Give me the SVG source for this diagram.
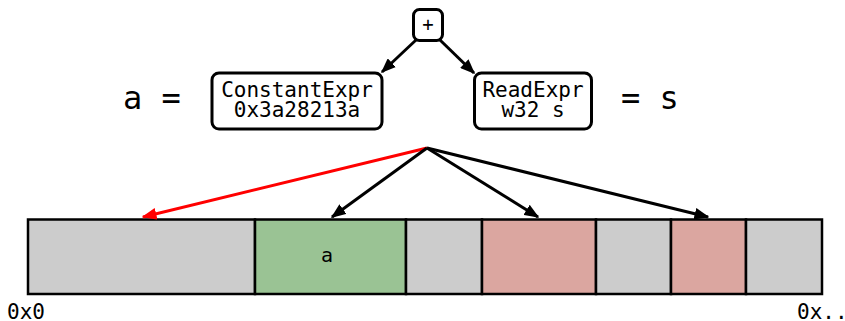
<svg xmlns="http://www.w3.org/2000/svg" width="845" height="321" viewBox="0 0 845 321">
<style>
.mono{font-family:"DejaVu Sans Mono","Liberation Mono",monospace;fill:#000}
.box{fill:#fff;stroke:#000;stroke-width:3}
.cell{stroke:#000;stroke-width:2.5}
.g{fill:#cccccc}.gr{fill:#9ac394}.p{fill:#dba6a0}
.c{stroke:#000;stroke-width:3;fill:none}
.r{stroke:#ff0000;stroke-width:3;fill:none}
</style>
<defs>
<marker id="ah" markerWidth="5" markerHeight="4" refX="4.5" refY="2" orient="auto" markerUnits="strokeWidth"><path d="M0,0 L5,2 L0,4 z" fill="#000"/></marker>
<marker id="ahr" markerWidth="5" markerHeight="4" refX="4.5" refY="2" orient="auto" markerUnits="strokeWidth"><path d="M0,0 L5,2 L0,4 z" fill="#ff0000"/></marker>
</defs>
<g id="eq-left"><text class="mono" x="123" y="109" font-size="32">a =</text></g>
<g id="eq-right"><text class="mono" x="621" y="109" font-size="32">= s</text></g>
<g id="plus"><rect class="box" x="413.5" y="9.5" width="29" height="31" rx="6"/><text class="mono" x="428" y="31" font-size="19" text-anchor="middle">+</text></g>
<g id="const"><rect class="box" x="212" y="73" width="170" height="56" rx="7"/><text class="mono" x="297" y="96.5" font-size="21" text-anchor="middle">ConstantExpr</text><text class="mono" x="297" y="116.5" font-size="21" text-anchor="middle">0x3a28213a</text></g>
<g id="read"><rect class="box" x="474.5" y="73" width="117" height="56" rx="7"/><text class="mono" x="533" y="96.5" font-size="21" text-anchor="middle">ReadExpr</text><text class="mono" x="533" y="116.5" font-size="21" text-anchor="middle">w32 s</text></g>
<g id="memory">
<rect class="cell g" x="28" y="219.5" width="227" height="74.5"/>
<rect class="cell gr" x="255" y="219.5" width="151" height="74.5"/>
<rect class="cell g" x="406" y="219.5" width="76" height="74.5"/>
<rect class="cell p" x="482" y="219.5" width="114" height="74.5"/>
<rect class="cell g" x="596" y="219.5" width="75" height="74.5"/>
<rect class="cell p" x="671" y="219.5" width="75" height="74.5"/>
<rect class="cell g" x="746" y="219.5" width="76" height="74.5"/>
<text class="mono" x="327" y="262" font-size="20" text-anchor="middle">a</text>
</g>
<g id="addr-start"><text class="mono" x="7" y="319" font-size="21">0x0</text></g>
<g id="addr-end"><text class="mono" x="797" y="319" font-size="21">0x..</text></g>
<g id="connectors">
<line class="c" x1="416" y1="40" x2="382" y2="72" marker-end="url(#ah)"/>
<line class="c" x1="440" y1="40" x2="474" y2="73" marker-end="url(#ah)"/>
<line class="r" x1="427" y1="148" x2="143" y2="217" marker-end="url(#ahr)"/>
<line class="c" x1="427" y1="148" x2="332" y2="217" marker-end="url(#ah)"/>
<line class="c" x1="427" y1="148" x2="538" y2="217" marker-end="url(#ah)"/>
<line class="c" x1="427" y1="148" x2="708" y2="217" marker-end="url(#ah)"/>
</g>
</svg>
